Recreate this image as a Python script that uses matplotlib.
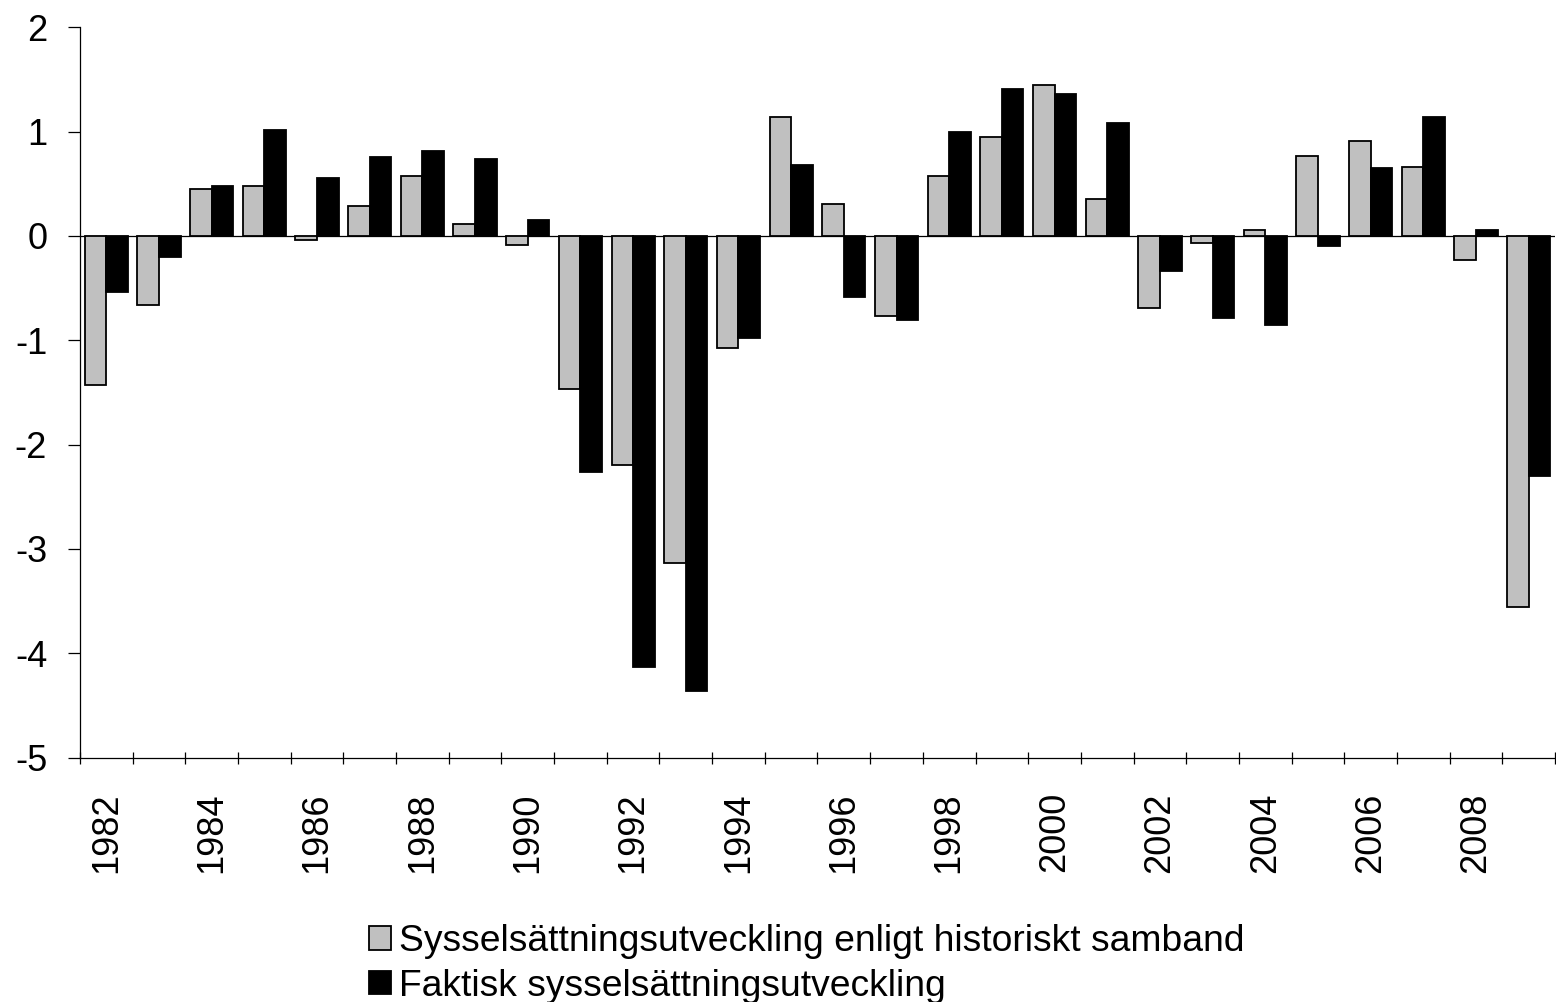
import numpy as np
import matplotlib

matplotlib.use('agg')
import matplotlib.pyplot as plt

years = list(range(1982, 2010))
hist = [-1.43, -0.66, 0.45, 0.48, -0.04, 0.29, 0.57, 0.11, -0.09, -1.47,
        -2.20, -3.14, -1.07, 1.14, 0.31, -0.77, 0.57, 0.95, 1.45, 0.35,
        -0.69, -0.07, 0.06, 0.77, 0.91, 0.66, -0.23, -3.56]
fakt = [-0.54, -0.20, 0.48, 1.02, 0.56, 0.76, 0.81, 0.74, 0.15, -2.26,
        -4.13, -4.36, -0.98, 0.68, -0.59, -0.81, 1.00, 1.41, 1.36, 1.08,
        -0.34, -0.79, -0.85, -0.10, 0.65, 1.14, 0.06, -2.30]
labels = ["Sysselsättningsutveckling enligt historiskt samband",
          "Faktisk sysselsättningsutveckling"]

plt.rcParams['font.family'] = ['Liberation Sans', 'DejaVu Sans']
plt.rcParams['axes.unicode_minus'] = False

W, H = 1556, 1002
fig = plt.figure(figsize=(W / 100, H / 100), dpi=100)
ax = fig.add_axes([80 / W, 1 - 757.5 / H, 1475 / W, (757.5 - 27.3) / H])

x = np.arange(len(years))
bw = 0.41
ax.bar(x - bw / 2, hist, bw, color='#c0c0c0', edgecolor='black', linewidth=1.3,
       label=labels[0], zorder=3)
ax.bar(x + bw / 2, fakt, bw, color='black', edgecolor='black', linewidth=1.3,
       label=labels[1], zorder=3)
ax.axhline(0, color='black', lw=0.9, zorder=2)

ax.set_xlim(-0.5, len(years) - 0.5)
ax.set_ylim(-5, 2)
ax.set_yticks(range(-5, 3))
ax.tick_params(axis='y', direction='out', length=8.6, width=0.9, pad=15,
               labelsize=26, colors='black')

# category boundaries get the tick marks, every other year gets a label
ax.set_xticks(np.arange(len(years) + 1) - 0.5)
ax.set_xticklabels([])
ax.tick_params(axis='x', which='major', direction='inout', length=8.6, width=0.9)
even = [i for i, y in enumerate(years) if y % 2 == 0]
ax.set_xticks(even, minor=True)
ax.set_xticklabels([str(years[i]) for i in even], minor=True, rotation=90)
ax.tick_params(axis='x', which='minor', length=0, pad=25, labelsize=26)

for s in ['top', 'right']:
    ax.spines[s].set_visible(False)
for s in ['left', 'bottom']:
    ax.spines[s].set_linewidth(0.9)

fig.legend(loc='upper left', bbox_to_anchor=(369 / W, 1 - 924 / H),
           frameon=False, fontsize=26.8, handlelength=0.6, handleheight=0.6,
           handletextpad=0.2, borderpad=0, borderaxespad=0, labelspacing=0.26)

fig.savefig('out.png', dpi=100)
